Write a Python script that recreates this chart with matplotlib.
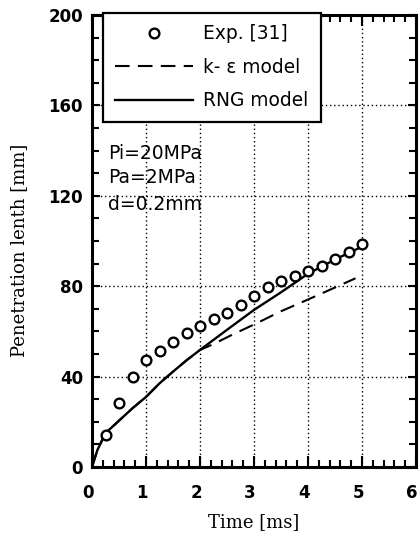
import matplotlib
matplotlib.use("Agg")
import matplotlib.pyplot as plt
import matplotlib.transforms as mtransforms
from matplotlib.ticker import MultipleLocator

# ---- data ----
exp_t = [0.25, 0.5, 0.75, 1.0, 1.25, 1.5, 1.75, 2.0, 2.25, 2.5,
         2.75, 3.0, 3.25, 3.5, 3.75, 4.0, 4.25, 4.5, 4.75, 5.0]
exp_v = [14.2, 28.2, 39.7, 47.3, 51.5, 55.4, 59.4, 62.5, 65.5, 68.3,
         71.5, 75.7, 79.5, 82.4, 84.5, 86.9, 88.9, 92.2, 95.3, 98.5]

rng_t = [0.0, 0.1, 0.25, 0.5, 0.75, 1.0, 1.25, 1.5, 1.75, 2.0,
         2.5, 3.0, 3.5, 4.0, 4.5, 5.0]
rng_v = [0.0, 7.5, 15.0, 20.5, 26.0, 31.0, 37.0, 42.2, 47.2, 51.8,
         60.7, 69.5, 77.3, 85.5, 91.8, 97.5]

ke_t = [0.0, 0.1, 0.25, 0.5, 0.75, 1.0, 1.25, 1.5, 1.75, 2.0,
        2.25, 2.62, 3.05, 3.48, 3.98, 4.47, 4.88]
ke_v = [0.0, 7.5, 15.0, 20.5, 26.0, 31.0, 37.0, 42.2, 47.2, 51.8,
        54.4, 58.8, 63.6, 68.7, 73.9, 79.1, 83.5]

labels = ["Exp. [31]", "k- \u03b5 model", "RNG model"]
conditions = ["Pi=20MPa", "Pa=2MPa", "d=0.2mm"]
cond_y = [136.5, 125.5, 113.5]

xticks = [0, 1, 2, 3, 4, 5, 6]
yticks = [0, 40, 80, 120, 160, 200]

# ---- figure ----
fig = plt.figure(figsize=(4.19, 5.44), dpi=100)
ax = fig.add_axes([92 / 419, (544 - 467) / 544, 324 / 419, 452 / 544])

ax.plot(exp_t, exp_v, linestyle="none", marker="o", markersize=7,
        markerfacecolor="white", markeredgecolor="black", markeredgewidth=1.7,
        label=labels[0], zorder=4)
ax.plot(ke_t, ke_v, color="black", linewidth=1.5, linestyle=(0, (7, 4)),
        label=labels[1], zorder=3)
ax.plot(rng_t, rng_v, color="black", linewidth=1.7, label=labels[2], zorder=3)

ax.set_xlim(0, 6)
ax.set_ylim(0, 200)
ax.set_xticks(xticks)
ax.set_yticks(yticks)
ax.xaxis.set_minor_locator(MultipleLocator(0.2))
ax.yaxis.set_minor_locator(MultipleLocator(10))

ax.grid(True, which="major", color="black", linestyle=(0, (1, 2)), linewidth=1.0)

ax.tick_params(which="both", direction="in", top=True, right=True, width=1.5,
               colors="black")
ax.tick_params(axis="x", which="major", length=8, pad=12)
ax.tick_params(axis="x", which="minor", length=5)
ax.tick_params(axis="y", which="major", length=6, pad=6.5)
ax.tick_params(axis="y", which="minor", length=5)

shift = mtransforms.ScaledTranslation(-4 / 100, 0, fig.dpi_scale_trans)
for lab in ax.get_xticklabels():
    lab.set_transform(lab.get_transform() + shift)
for lab in ax.get_xticklabels() + ax.get_yticklabels():
    lab.set_fontfamily("DejaVu Sans")
    lab.set_fontweight("bold")
    lab.set_fontsize(12)

for side in ["left", "bottom", "top", "right"]:
    ax.spines[side].set_linewidth(2.2)
    ax.spines[side].set_color("black")

ax.set_xlabel("Time [ms]", fontfamily="DejaVu Serif", fontsize=13)
ax.set_ylabel("Penetration lenth [mm]", fontfamily="DejaVu Serif", fontsize=13)
ax.xaxis.set_label_coords(0.5, -0.122)
ax.xaxis.label.set_verticalalignment("center")
ax.yaxis.set_label_coords(-0.225, 0.48)
ax.yaxis.label.set_verticalalignment("center")

for txt, yv in zip(conditions, cond_y):
    ax.text(0.3, yv, txt, fontfamily="DejaVu Sans", fontsize=13.5,
            ha="left", va="baseline", zorder=5)

leg = ax.legend(loc="upper left", bbox_to_anchor=(0.034, 0.73, 0.673, 0.275),
                mode="expand", borderaxespad=0, frameon=True,
                fancybox=False, framealpha=1, edgecolor="black",
                handlelength=4.2, handletextpad=0.55, labelspacing=0.78,
                borderpad=0.62, prop={"family": "DejaVu Sans", "size": 13.4})
leg.get_frame().set_linewidth(1.6)
leg.set_zorder(6)

fig.savefig("out.png", dpi=100)
